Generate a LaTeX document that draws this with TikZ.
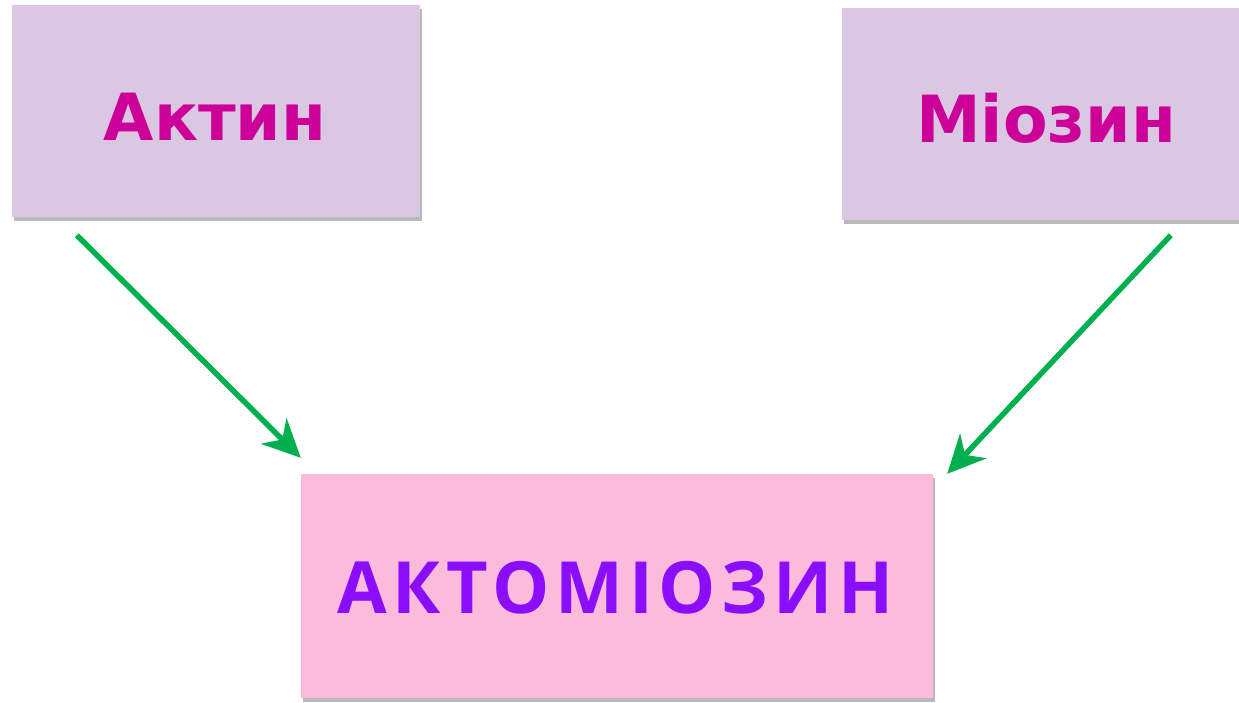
\documentclass[tikz,border=0pt]{standalone}
\usepackage{fontspec}
\newfontfamily\dejav{DejaVu Sans}
\newfontfamily\opens{Open Sans}[LetterSpace=8]
\usetikzlibrary{arrows.meta,shadows,calc}
\definecolor{topfill}{HTML}{DAC7E1}
\definecolor{botfill}{HTML}{FCBADC}
\definecolor{topink}{HTML}{CC0099}
\definecolor{botink}{HTML}{8A0EFC}
\definecolor{arrgreen}{HTML}{00B050}
\begin{document}
\begin{tikzpicture}[x=1pt,y=-1pt,
  box/.style={draw=none, inner sep=0pt, drop shadow={shadow xshift=2pt, shadow yshift=-4pt, opacity=0.45, fill=black!60}},
  topbox/.style={box, fill=topfill, minimum width=408pt, minimum height=212pt},
  botbox/.style={box, fill=botfill, minimum width=632pt, minimum height=224pt},
  toptext/.style={text=topink, font=\dejav\bfseries\fontsize{65}{65}\selectfont, anchor=base, inner sep=0pt},
  bottext/.style={text=botink, font=\opens\bfseries\fontsize{72}{72}\selectfont, anchor=base, inner sep=0pt},
  conn/.style={draw=arrgreen, line width=5.5pt, -{Stealth[length=38pt, width=36pt, inset=12pt]}}
]
\useasboundingbox[fill=white] (0,0) rectangle (1239,702);
\node[topbox] (akt) at (216,111) {};
\node[topbox, minimum width=397pt] (mio) at (1040.5,114) {};
\node[botbox] (akm) at (617,586) {};
\node[toptext] (taktin) at (215,140) {Актин};
\node[toptext] (tmio) at (1046,142) {Міозин};
\node[bottext] (takm) at (615.5,613) {АКТОМІОЗИН};
\coordinate (s1) at ($(akt.south west)+(65,18)$);
\coordinate (e1) at ($(akm.north west)+(0,-16)$);
\coordinate (s2) at ($(mio.south west)+(329,15)$);
\coordinate (e2) at ($(akm.north east)+(14,0)$);
\draw[conn] (s1) -- (e1);
\draw[conn] (s2) -- (e2);
\end{tikzpicture}
\end{document}
